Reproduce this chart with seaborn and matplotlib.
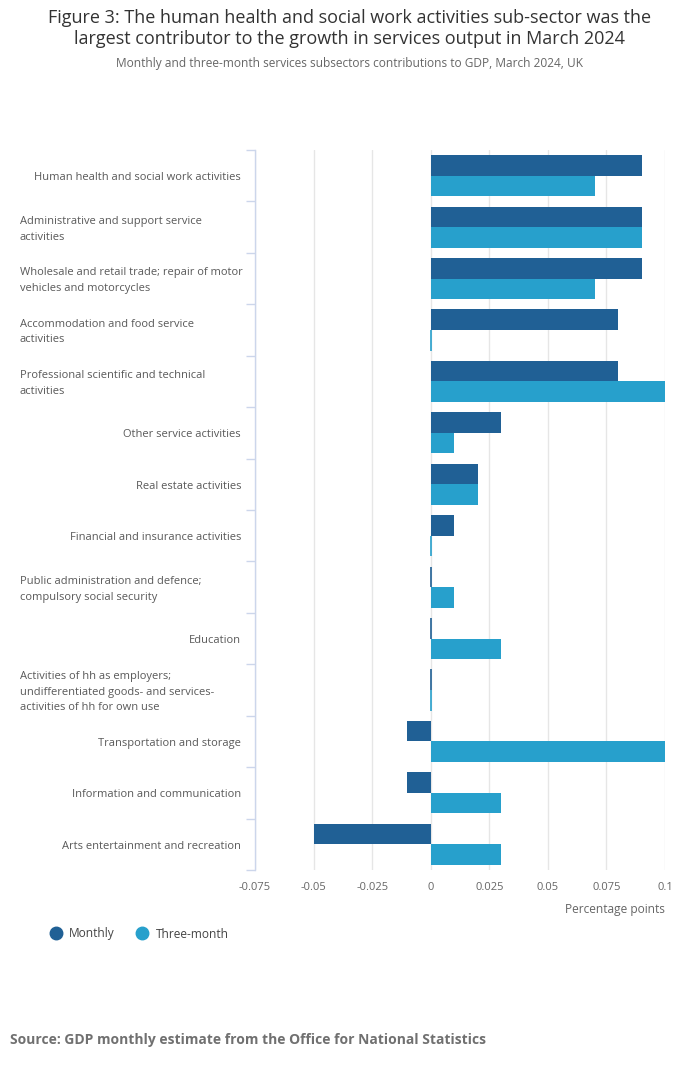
import matplotlib
matplotlib.use("Agg")
import matplotlib.pyplot as plt
from matplotlib.lines import Line2D
import matplotlib.transforms as mtransforms
import seaborn as sns
import pandas as pd
import numpy as np

# Data
categories = [
    "Human health and social work activities",
    "Administrative and support service\nactivities",
    "Wholesale and retail trade; repair of motor\nvehicles and motorcycles",
    "Accommodation and food service\nactivities",
    "Professional scientific and technical\nactivities",
    "Other service activities",
    "Real estate activities",
    "Financial and insurance activities",
    "Public administration and defence;\ncompulsory social security",
    "Education",
    "Activities of hh as employers;\nundifferentiated goods- and services-\nactivities of hh for own use",
    "Transportation and storage",
    "Information and communication",
    "Arts entertainment and recreation",
]
monthly = [0.09, 0.09, 0.09, 0.08, 0.08, 0.03, 0.02, 0.01, 0.0, 0.0, 0.0, -0.01, -0.01, -0.05]
three_month = [0.07, 0.09, 0.07, 0.0, 0.1, 0.01, 0.02, 0.0, 0.01, 0.03, 0.0, 0.1, 0.03, 0.03]
series = ["Monthly", "Three-month"]
x_ticks = [-0.075, -0.05, -0.025, 0, 0.025, 0.05, 0.075, 0.1]
x_tick_labels = ["-0.075", "-0.05", "-0.025", "0", "0.025", "0.05", "0.075", "0.1"]

colors = {"Monthly": "#206095", "Three-month": "#27a0cc"}

df = pd.DataFrame({
    "category": categories * 2,
    "value": monthly + three_month,
    "series": [series[0]] * len(categories) + [series[1]] * len(categories),
})

sns.set_style("white")
plt.rcParams['font.family'] = ['Open Sans', 'DejaVu Sans']

fig = plt.figure(figsize=(7, 10.67), dpi=100)
ax = fig.add_axes([255 / 700, 1 - 870 / 1067, 410 / 700, 720 / 1067])

sns.barplot(data=df, x="value", y="category", hue="series", order=categories,
            hue_order=series, palette=colors, orient="h", width=0.8,
            saturation=1, linewidth=0, ax=ax, legend=False)

# zero values drawn as a thin line
for p in ax.patches:
    if abs(p.get_width()) < 1e-9:
        p.set_edgecolor(p.get_facecolor())
        p.set_linewidth(1.2)

ax.set_xlim(-0.075, 0.1)
ax.set_ylim(len(categories) - 0.5, -0.5)
ax.set_xticks(x_ticks)
ax.set_xticklabels(x_tick_labels, fontsize=8, color="#666666")
ax.xaxis.grid(True, color="#e6e6e6", linewidth=1)
ax.set_axisbelow(True)
ax.tick_params(axis="x", length=0, pad=9)

# category labels: single lines end at the axis, wrapped ones sit left-aligned in a box
ax.tick_params(axis="y", which="major", left=False, length=0, labelleft=False)
ax.set_yticks(np.arange(-0.5, len(categories), 1), minor=True)
ax.tick_params(axis="y", which="minor", left=True, length=6.5, width=1, color="#ccd6eb")
trans = mtransforms.blended_transform_factory(fig.transFigure, ax.transData)
trans = trans + mtransforms.ScaledTranslation(0, -2 / 100, fig.dpi_scale_trans)
for i, name in enumerate(categories):
    if "\n" in name:
        ax.text(20 / 700, i, name, transform=trans, ha="left", va="center",
                fontsize=8, color="#595959", linespacing=1.6)
    else:
        ax.text(241 / 700, i, name, transform=trans, ha="right", va="center",
                fontsize=8, color="#595959")

for s in ["top", "right", "bottom"]:
    ax.spines[s].set_visible(False)
ax.spines["left"].set_color("#ccd6eb")
ax.spines["left"].set_linewidth(1)

ax.set_ylabel("")
ax.set_xlabel("Percentage points", fontsize=8.6, color="#666666", loc="right", labelpad=7)

# title and subtitle
fig.text(0.5, 1 - 18 / 1067, "Figure 3: The human health and social work activities sub-sector was the",
         ha="center", va="center", fontsize=13, color="#333333")
fig.text(0.5, 1 - 39 / 1067, "largest contributor to the growth in services output in March 2024",
         ha="center", va="center", fontsize=13, color="#333333")
fig.text(0.5, 1 - 64 / 1067, "Monthly and three-month services subsectors contributions to GDP, March 2024, UK",
         ha="center", va="center", fontsize=8.6, color="#666666")

# legend
handles = [Line2D([0], [0], marker="o", linestyle="", markersize=9,
                  markerfacecolor=colors[s], markeredgecolor=colors[s]) for s in series]
fig.legend(handles, series, loc="center left", bbox_to_anchor=(44 / 700, 1 - 934 / 1067),
           ncol=2, frameon=False, fontsize=8.6, handletextpad=0.1, columnspacing=1.3,
           borderpad=0, borderaxespad=0, labelcolor="#444444")

fig.text(10 / 700, 1 - 1040 / 1067, "Source: GDP monthly estimate from the Office for National Statistics",
         ha="left", va="center", fontsize=10, fontweight="bold", color="#707070")

fig.savefig("out.png", dpi=100)
